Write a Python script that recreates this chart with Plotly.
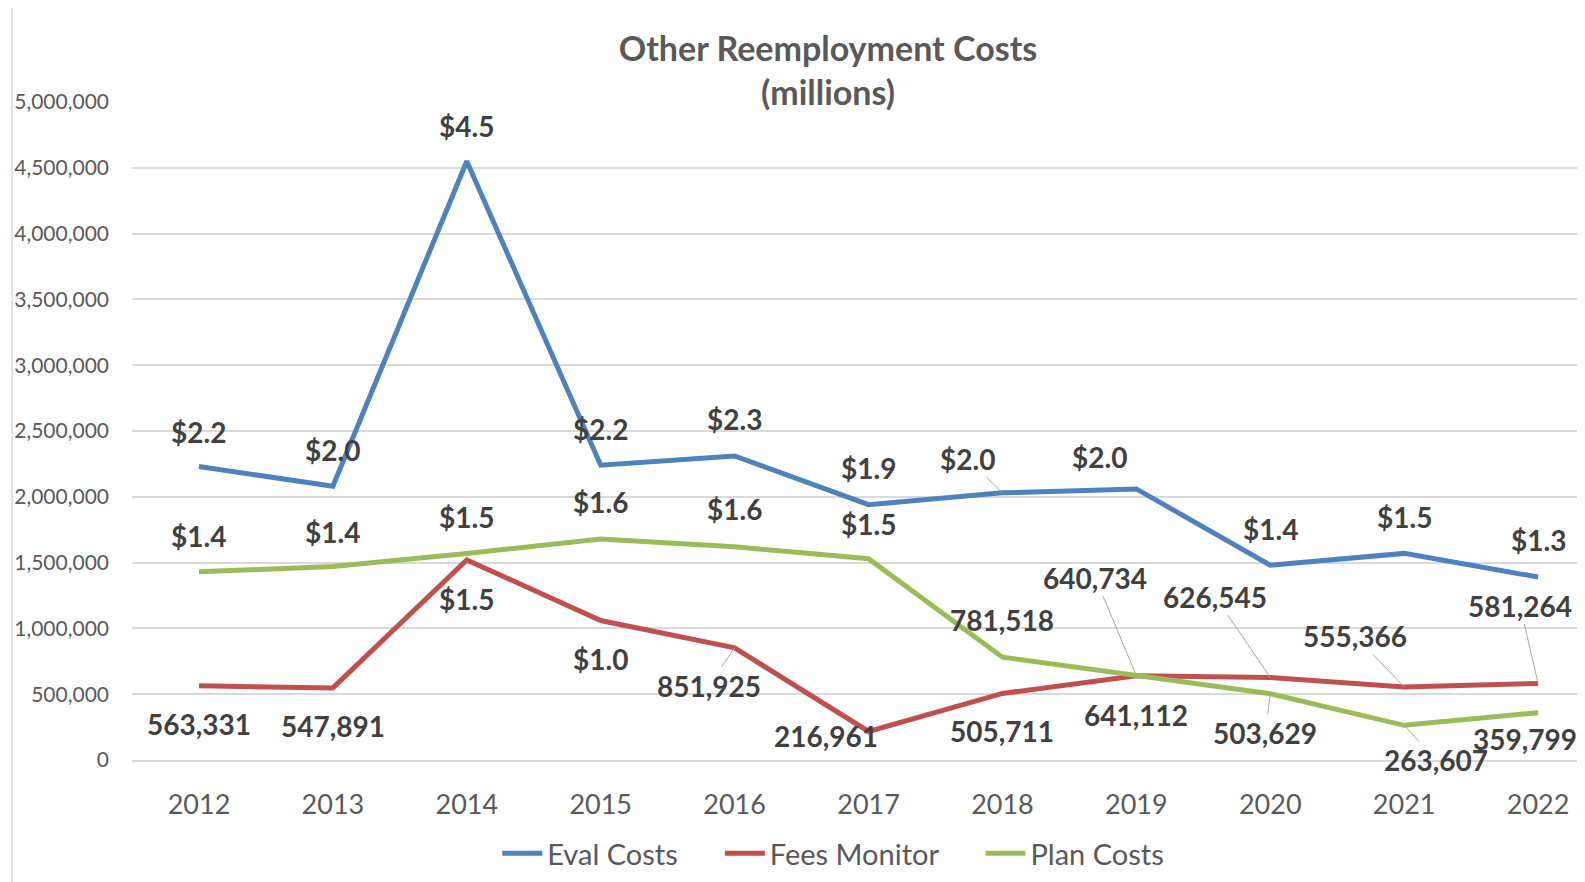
import plotly.graph_objects as go

# ---- data ----
years = ["2012", "2013", "2014", "2015", "2016", "2017", "2018", "2019", "2020", "2021", "2022"]

eval_costs = [2230000, 2080000, 4550000, 2240000, 2310000, 1940000,
              2030000, 2060000, 1480000, 1570000, 1390000]
fees_monitor = [563331, 547891, 1520000, 1060000, 851925, 216961,
                505711, 640734, 626545, 555366, 581264]
plan_costs = [1430000, 1470000, 1570000, 1680000, 1620000, 1530000,
              781518, 641112, 503629, 263607, 359799]

eval_labels = ["$2.2", "$2.0", "$4.5", "$2.2", "$2.3", "$1.9",
               "$2.0", "$2.0", "$1.4", "$1.5", "$1.3"]
fees_labels = ["563,331", "547,891", "$1.5", "$1.0", "851,925", "216,961",
               "505,711", "640,734", "626,545", "555,366", "581,264"]
plan_labels = ["$1.4", "$1.4", "$1.5", "$1.6", "$1.6", "$1.5",
               "781,518", "641,112", "503,629", "263,607", "359,799"]

# ---- label placement (pixel offsets from the point, leader line flag) ----
eval_offsets = [(0, -35, False), (0, -36, False), (0, -35, False), (0, -36, False),
                (0, -37, False), (0, -37, False), (-35, -34, True), (-37, -32, False),
                (0, -36, False), (0, -36, False), (0, -37, False)]
fees_offsets = [(0, 38, False), (0, 38, False), (0, 39, False), (0, 38, False),
                (-26, 38, True), (-43, 5, False), (0, 38, False), (-41, -98, True),
                (-55, -81, True), (-49, -51, True), (-18, -78, True)]
plan_offsets = [(0, -36, False), (0, -35, False), (0, -36, False), (0, -37, False),
                (0, -38, False), (0, -35, False), (0, -37, False), (0, 39, False),
                (-5, 39, True), (32, 35, True), (-13, 26, False)]

BLUE = "#4F81BD"
RED = "#C0504D"
GREEN = "#9BBB59"
FONT = "Lato"
PAD = "\u00a0" * 5  # extra room between legend entries

fig = go.Figure()

for name, vals, color in [("Eval Costs" + PAD, eval_costs, BLUE),
                          ("Fees Monitor" + PAD, fees_monitor, RED),
                          ("Plan Costs", plan_costs, GREEN)]:
    fig.add_trace(go.Scatter(
        x=list(range(len(years))), y=vals, mode="lines", name=name,
        line=dict(color=color, width=5)
    ))

annotations = []
for vals, labels, offsets in [(eval_costs, eval_labels, eval_offsets),
                              (fees_monitor, fees_labels, fees_offsets),
                              (plan_costs, plan_labels, plan_offsets)]:
    for i, (v, txt, (dx, dy, leader)) in enumerate(zip(vals, labels, offsets)):
        annotations.append(dict(
            x=i, y=v, xref="x", yref="y", text=txt,
            showarrow=True, ax=dx, ay=dy, axref="pixel", ayref="pixel",
            arrowhead=0, arrowwidth=1,
            arrowcolor="#A6A6A6" if leader else "rgba(0,0,0,0)",
            font=dict(family=FONT, size=28, color="#404040", weight="bold"),
        ))

fig.update_layout(
    width=1585, height=882,
    margin=dict(l=124, r=0, t=94, b=130),
    paper_bgcolor="white", plot_bgcolor="white",
    title=dict(
        text="Other Reemployment Costs<br>(millions)",
        x=820 / 1585, xref="container", xanchor="center",
        y=1 - 53 / 882, yref="container", yanchor="top",
        font=dict(family=FONT, size=34, color="#595959", weight="bold"),
    ),
    showlegend=True,
    legend=dict(
        orientation="h", x=0.48, xanchor="center", y=-0.142, yanchor="middle",
        font=dict(family=FONT, size=29, color="#595959"),
        itemwidth=40,
    ),
    annotations=annotations,
    shapes=[dict(type="line", xref="paper", yref="paper",
                 x0=-0.0821, x1=-0.0821, y0=-0.195, y1=1.144,
                 line=dict(color="#D9D9D9", width=1.5))],
)

fig.update_xaxes(
    range=[-0.5, 10.41], tickmode="array",
    tickvals=list(range(len(years))), ticktext=years,
    showgrid=False, showline=True, linecolor="#D9D9D9", linewidth=1.5,
    zeroline=False, ticks="", ticklabelstandoff=20,
    tickfont=dict(family=FONT, size=27, color="#595959"),
)
fig.update_yaxes(
    range=[0, 5000000], dtick=500000, tickformat=",d",
    showgrid=True, gridcolor="#D9D9D9", gridwidth=1.5,
    zeroline=True, zerolinecolor="#D9D9D9", zerolinewidth=1.5,
    ticks="", ticklabelstandoff=22,
    tickfont=dict(family=FONT, size=21, color="#595959"),
)

fig.write_html("out.html")
